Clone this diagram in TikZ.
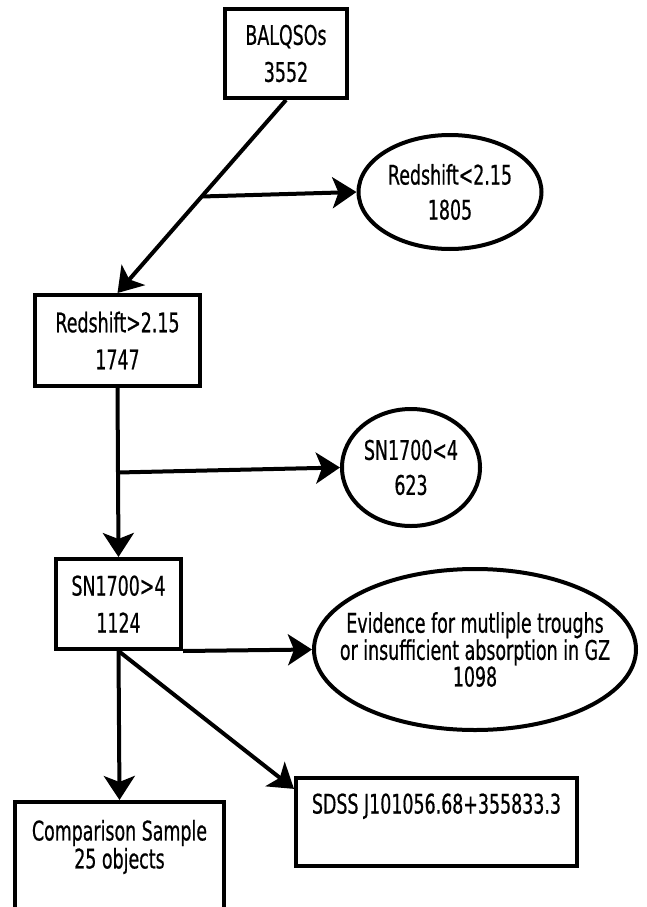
\documentclass[tikz,border=0pt]{standalone}
\usepackage{fontspec}
\setmainfont{DejaVu Sans}[FakeStretch=0.645,FakeBold=0.6]
\usetikzlibrary{shapes.geometric,arrows.meta,calc}
\newcommand{\zw}[1]{\makebox[0pt]{#1}}
\begin{document}
\begin{tikzpicture}[x=1pt,y=-1pt,
  box/.style={draw,line width=4pt,rectangle,inner sep=0pt,align=center,font=\fontsize{27}{37}\selectfont},
  oval/.style={draw,line width=4pt,ellipse,inner sep=0pt,align=center,font=\fontsize{27}{35}\selectfont},
  arr/.style={line width=4pt,-{Stealth[length=24pt,width=31pt,inset=6pt]}}]
\useasboundingbox (0,0) rectangle (646,907);
\clip (0,0) rectangle (646,907);
\node[box,minimum width=122pt,minimum height=89pt] (bal) at (286,53.5) {\zw{BALQSOs}\\\zw{3552}};
\node[oval,minimum width=183pt,minimum height=114pt] (e1) at (450,192) {\zw{Redshift<2.15}\\\zw{1805}};
\node[box,minimum width=165pt,minimum height=91pt] (rs) at (117.5,340.5) {\zw{Redshift>2.15}\\\zw{1747}};
\node[oval,minimum width=138pt,minimum height=117pt] (e2) at (411,467.5) {\zw{SN1700<4}\\\zw{623}};
\node[box,minimum width=125pt,minimum height=90pt] (sn) at (118.5,604) {\zw{SN1700>4}\\\zw{1124}};
\node[oval,minimum width=322pt,minimum height=161pt,font=\fontsize{27}{25.5}\selectfont] (e3) at (475,649.5) {\zw{Evidence for mutliple troughs}\\\zw{or insufficient absorption in GZ}\\\zw{1098}};
\node[box,minimum width=281pt,minimum height=88pt] (sdss) at (436.5,822) {\zw{SDSS J101056.68+355833.3}\\\mbox{}};
\node[box,minimum width=209pt,minimum height=200pt,anchor=north] (comp) at (119.5,800) {};
\node[font=\fontsize{27}{28}\selectfont,align=center,inner sep=0pt] (comptext) at (119.5,847) {\zw{Comparison Sample}\\\zw{25 objects}};
% connectors
\draw[arr] (bal.south) -- (rs.north);
\coordinate (b1) at ($(bal.south)!0.5!(rs.north)$);
\draw[arr] (b1) -- (e1.west);
\draw[arr] (rs.south) -- (sn.north);
\coordinate (b2) at ($(rs.south)!0.5!(sn.north)$);
\draw[arr] (b2) -- (e2.west);
\draw[arr] (sn.south east) -- (e3.west);
\draw[arr] (sn.south) -- (comp.north);
\draw[arr] (sn.south) -- ($(sdss.north west)!0.14!(sdss.south west)$);
\end{tikzpicture}
\end{document}
